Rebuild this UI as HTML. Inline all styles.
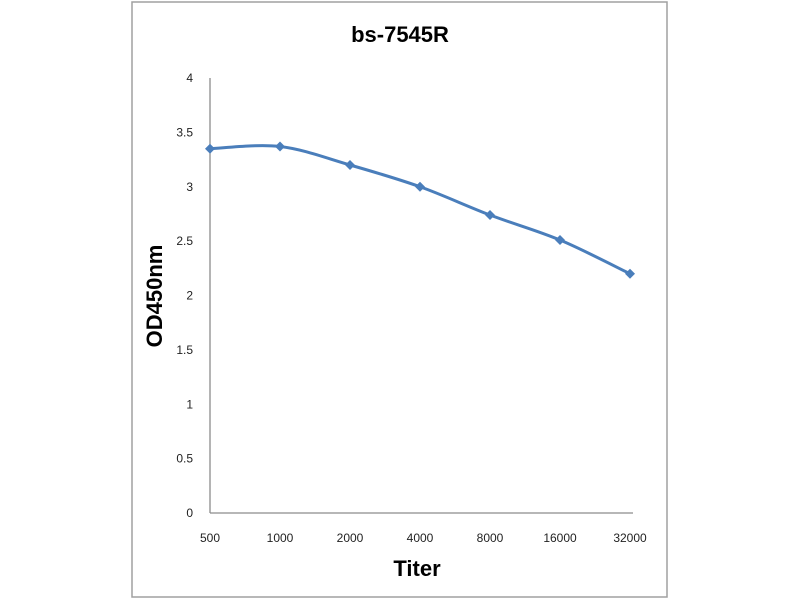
<!DOCTYPE html>
<html><head><meta charset="utf-8"><style>
html,body{margin:0;padding:0;background:#fff;}
svg{display:block;font-family:"Liberation Sans",sans-serif;}
</style></head><body>
<svg id="chart" width="800" height="600">
<rect x="132" y="2" width="535" height="595" fill="#fff" stroke="#a0a0a0" stroke-width="1.5"/>
<text x="400" y="42" text-anchor="middle" font-size="22" font-weight="bold" fill="#000">bs-7545R</text>
<text x="417" y="576" text-anchor="middle" font-size="22" font-weight="bold" fill="#000">Titer</text>
<text transform="translate(162,296) rotate(-90)" text-anchor="middle" font-size="22" font-weight="bold" fill="#000">OD450nm</text>
<g id="axes"></g>
<g id="series"></g>
</svg>
<script>
const categories = ["500","1000","2000","4000","8000","16000","32000"];
const values = [3.35, 3.37, 3.2, 3.0, 2.74, 2.51, 2.2];
const yTicks = [0,0.5,1,1.5,2,2.5,3,3.5,4];
const yTickLabels = ["0","0.5","1","1.5","2","2.5","3","3.5","4"];
const NS="http://www.w3.org/2000/svg";
const x0=210, step=70, yBase=513, yTop=78, yMax=4;
function xs(i){return x0+i*step;}
function ys(v){return yBase-(v/yMax)*(yBase-yTop);}
function mk(t,a){const e=document.createElementNS(NS,t);for(const k in a)e.setAttribute(k,a[k]);return e;}
const axes=document.getElementById('axes'), ser=document.getElementById('series');
let yl=mk('line',{x1:x0,y1:yTop,x2:x0,y2:yBase,stroke:'#8c8c8c','stroke-width':1.3});


axes.appendChild(yl);
let xl=mk('line',{x1:x0,y1:yBase,x2:633,y2:yBase,stroke:'#8c8c8c','stroke-width':1.3});


axes.appendChild(xl);
yTicks.forEach((v,i)=>{
  const t=mk('text',{x:193,y:ys(v)+4,'text-anchor':'end','font-size':12,fill:'#222'});
  t.textContent=yTickLabels[i];
  
  
  axes.appendChild(t);
});
categories.forEach((c,i)=>{
  const t=mk('text',{x:xs(i),y:542,'text-anchor':'middle','font-size':12,fill:'#222'});
  t.textContent=c;
  
  
  axes.appendChild(t);
});
const pts=values.map((v,i)=>[xs(i),ys(v)]);
let d='M'+pts[0][0]+','+pts[0][1];
for(let i=0;i<pts.length-1;i++){
  const p0=pts[i-1]||pts[i],p1=pts[i],p2=pts[i+1],p3=pts[i+2]||p2,k=1/6;
  d+=' C'+(p1[0]+(p2[0]-p0[0])*k)+','+(p1[1]+(p2[1]-p0[1])*k)+' '+(p2[0]-(p3[0]-p1[0])*k)+','+(p2[1]-(p3[1]-p1[1])*k)+' '+p2[0]+','+p2[1];
}
const path=mk('path',{d:d,fill:'none',stroke:'#4a7ebb','stroke-width':3});


ser.appendChild(path);
pts.forEach(p=>{
  const m=mk('polygon',{points:`${p[0]},${p[1]-5} ${p[0]+5},${p[1]} ${p[0]},${p[1]+5} ${p[0]-5},${p[1]}`,fill:'#4a7ebb'});
  
  
  ser.appendChild(m);
});
</script>
</body></html>
